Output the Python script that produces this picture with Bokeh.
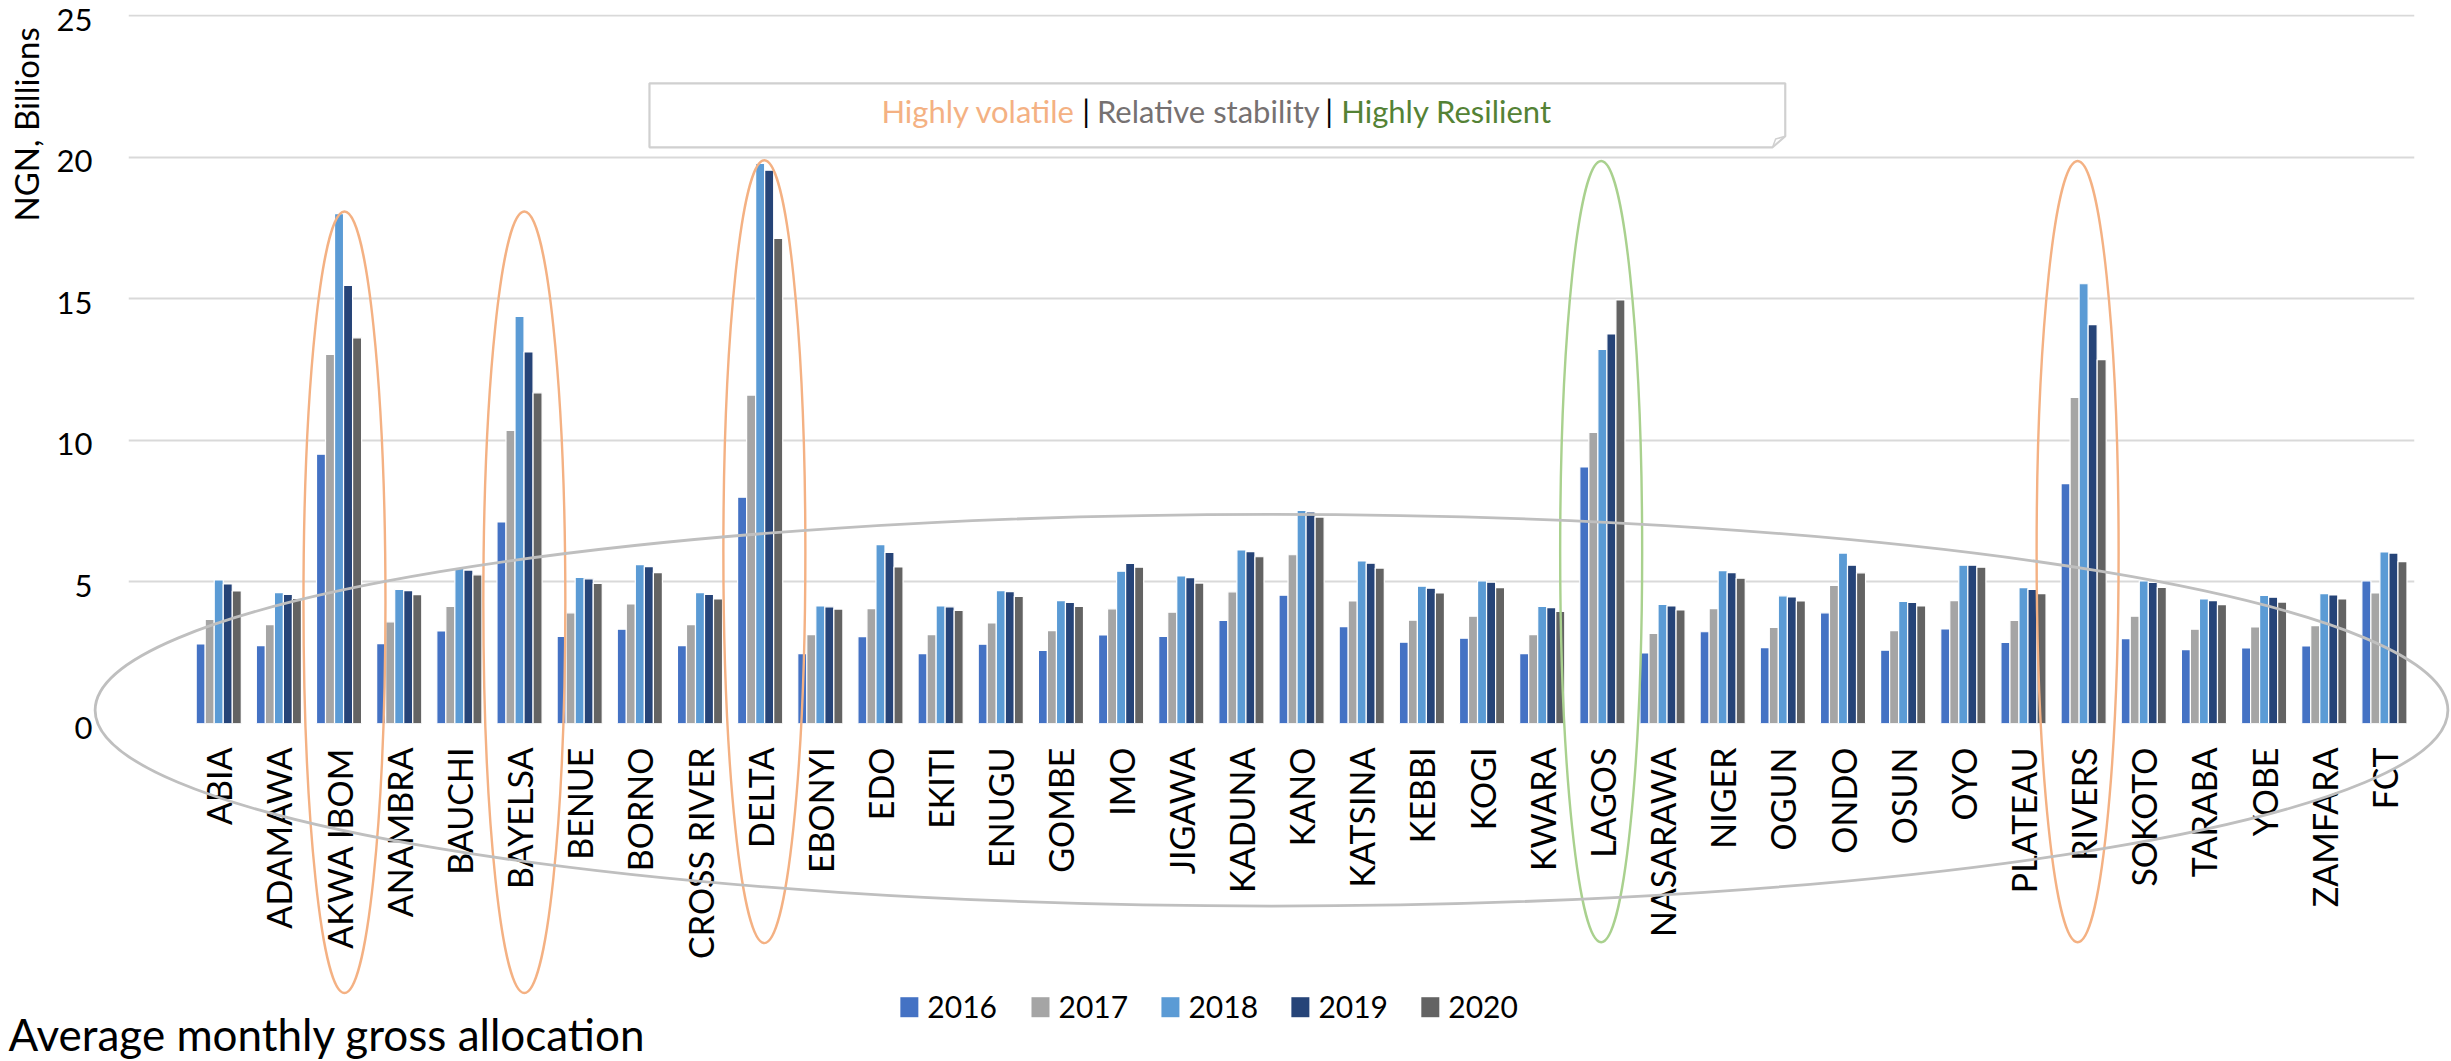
from math import pi

from bokeh.core.properties import value
from bokeh.embed import file_html
from bokeh.models import ColumnDataSource, FactorRange, FixedTicker, Range1d
from bokeh.plotting import figure
from bokeh.resources import INLINE
from bokeh.transform import dodge

# Average monthly gross allocation per state, NGN billions
states = ["ABIA", "ADAMAWA", "AKWA IBOM", "ANAMBRA", "BAUCHI", "BAYELSA", "BENUE",
          "BORNO", "CROSS RIVER", "DELTA", "EBONYI", "EDO", "EKITI", "ENUGU", "GOMBE",
          "IMO", "JIGAWA", "KADUNA", "KANO", "KATSINA", "KEBBI", "KOGI", "KWARA",
          "LAGOS", "NASARAWA", "NIGER", "OGUN", "ONDO", "OSUN", "OYO", "PLATEAU",
          "RIVERS", "SOKOTO", "TARABA", "YOBE", "ZAMFARA", "FCT"]

y2016 = [2.81, 2.75, 9.51, 2.82, 3.27, 7.12, 3.08, 3.33, 2.75, 7.99, 2.47, 3.07, 2.47,
         2.80, 2.58, 3.13, 3.08, 3.64, 4.53, 3.42, 2.87, 3.01, 2.47, 9.06, 2.49, 3.24,
         2.68, 3.91, 2.59, 3.34, 2.86, 8.47, 3.00, 2.61, 2.67, 2.74, 5.04]
y2017 = [3.68, 3.49, 13.04, 3.59, 4.14, 10.35, 3.91, 4.22, 3.49, 11.60, 3.14, 4.06, 3.14,
         3.55, 3.28, 4.05, 3.93, 4.65, 5.96, 4.33, 3.65, 3.79, 3.14, 10.28, 3.18, 4.06,
         3.39, 4.88, 3.28, 4.34, 3.64, 11.52, 3.79, 3.33, 3.41, 3.46, 4.61]
y2018 = [5.07, 4.62, 18.01, 4.74, 5.49, 14.38, 5.16, 5.61, 4.62, 19.78, 4.15, 6.32, 4.15,
         4.69, 4.34, 5.38, 5.21, 6.13, 7.53, 5.74, 4.85, 5.04, 4.14, 13.21, 4.21, 5.40,
         4.51, 6.02, 4.31, 5.59, 4.80, 15.53, 5.04, 4.40, 4.52, 4.59, 6.06]
y2019 = [4.93, 4.56, 15.47, 4.69, 5.42, 13.12, 5.11, 5.54, 4.56, 19.54, 4.12, 6.04, 4.12,
         4.66, 4.28, 5.65, 5.15, 6.07, 7.47, 5.66, 4.78, 4.99, 4.09, 13.76, 4.15, 5.33,
         4.47, 5.59, 4.28, 5.59, 4.74, 14.09, 4.98, 4.34, 4.46, 4.54, 6.02]
y2020 = [4.68, 4.42, 13.62, 4.55, 5.25, 11.68, 4.95, 5.33, 4.40, 17.13, 4.04, 5.53, 3.99,
         4.49, 4.14, 5.52, 4.96, 5.89, 7.29, 5.49, 4.61, 4.80, 3.96, 14.96, 4.01, 5.13,
         4.33, 5.32, 4.15, 5.52, 4.59, 12.85, 4.81, 4.20, 4.29, 4.40, 5.72]

years = ["2016", "2017", "2018", "2019", "2020"]
colors = ["#4472C4", "#A5A5A5", "#5B9BD5", "#264478", "#636363"]
y_ticks = [0, 5, 10, 15, 20, 25]

# highlighted states: (state, colour, horizontal nudge, centre y, height)
highlights = [("AKWA IBOM", "#F4B183", 0.09, 4.28, 27.6),
              ("BAYELSA", "#F4B183", 0.08, 4.28, 27.6),
              ("DELTA", "#F4B183", 0.07, 6.07, 27.65),
              ("LAGOS", "#A9D18E", -0.02, 6.07, 27.65),
              ("RIVERS", "#F4B183", -0.10, 6.07, 27.65)]

src = ColumnDataSource(dict(state=states, y2016=y2016, y2017=y2017, y2018=y2018,
                            y2019=y2019, y2020=y2020))

factors = [" "] + states
p = figure(x_range=FactorRange(factors=factors), y_range=Range1d(0, 25.04),
           width=2451, height=1061, output_backend="svg", toolbar_location=None,
           min_border_left=128, min_border_right=37, min_border_top=14,
           min_border_bottom=338)
p.outline_line_color = None
p.background_fill_color = "white"
p.border_fill_color = "white"

# grid and axes
p.xgrid.visible = False
p.yaxis.visible = False
p.ygrid.ticker = FixedTicker(ticks=y_ticks)
p.ygrid.grid_line_color = "#D9D9D9"
p.ygrid.grid_line_width = 2

p.xaxis.axis_line_color = None
p.xaxis.major_tick_line_color = None
p.xaxis.minor_tick_line_color = None
p.xaxis.major_tick_out = 0
p.xaxis.major_tick_in = 0
p.xaxis.major_label_text_font = "Lato"
p.xaxis.major_label_text_color = "#000000"
p.xaxis.major_label_text_font_size = "34px"
p.xaxis.major_label_orientation = pi / 2
p.xaxis.major_label_standoff = 24

# value labels of the vertical scale, right-aligned left of the plot area
p.text(x=[-0.598] * len(y_ticks), y=y_ticks, text=[str(t) for t in y_ticks],
       y_offset=4, text_align="right", text_baseline="middle",
       text_font=value("Lato"), text_font_size="31px", text_color="#000000",
       level="overlay")

# clustered bars
offsets = [-0.3, -0.15, 0.0, 0.15, 0.3]
for yr, col, off in zip(years, colors, offsets):
    p.vbar(x=dodge("state", off, range=p.x_range), top="y" + yr, width=0.15,
           source=src, fill_color=col, line_color="white", line_width=1.2)

# rings around the outlying states
for name, col, dx, cy, h in highlights:
    cx = factors.index(name) + 0.5 + dx
    p.ellipse(x=[cx], y=[cy], width=[1.363], height=[h], fill_color=None,
              line_color=col, line_width=2.4, level="overlay")

# ring around the bulk of the states
p.ellipse(x=[19.0], y=[0.47], width=[39.11], height=[13.84], fill_color=None,
          line_color="#BFBFBF", line_width=2.8, level="overlay")

# key box with folded corner
bx = [8.66, 27.54, 27.54, 27.33, 8.66]
by = [22.61, 22.61, 20.74, 20.35, 20.35]
p.patch(bx, by, fill_color="white", line_color="#D0D0D0", line_width=2.2)
p.line([27.54, 27.38, 27.33], [20.74, 20.64, 20.35], line_color="#D0D0D0", line_width=1.5)

key_y = 21.64
key_parts = [("Highly volatile", 15.74, "right", "#F4B183"),
             ("|", 15.92, "center", "#000000"),
             ("Relative stability", 17.95, "center", "#767171"),
             ("|", 19.96, "center", "#000000"),
             ("Highly Resilient", 20.16, "left", "#548235")]
for txt, kx, align, col in key_parts:
    p.text(x=[kx], y=[key_y], text=[txt], text_align=align,
           text_baseline="middle", text_font=value("Lato"),
           text_font_size="31px", text_color=col, level="overlay")

# axis title and caption
p.text(x=[-1.71], y=[21.16], text=["NGN, Billions"], angle=pi / 2,
       text_align="center", text_baseline="middle", text_font=value("Lato"),
       text_font_size="33px", text_color="#000000", level="overlay")
p.text(x=[-1.995], y=[-10.96], text=["Average monthly gross allocation"],
       text_align="left", text_baseline="middle", text_font=value("Lato"),
       text_font_size="44px", text_color="#000000", level="overlay")

# series key below the chart
key_x = [12.98, 15.16, 17.32, 19.48, 21.64]
key_row = -10.02
p.rect(x=key_x, y=[key_row] * 5, width=18, height=20, width_units="screen",
       height_units="screen", fill_color=colors, line_color=None, level="overlay")
p.text(x=key_x, y=[key_row] * 5, text=years, x_offset=18, text_align="left",
       text_baseline="middle", text_font=value("Lato"), text_font_size="30px",
       text_color="#000000", level="overlay")

open("out.html", "w").write(file_html(p, INLINE))
